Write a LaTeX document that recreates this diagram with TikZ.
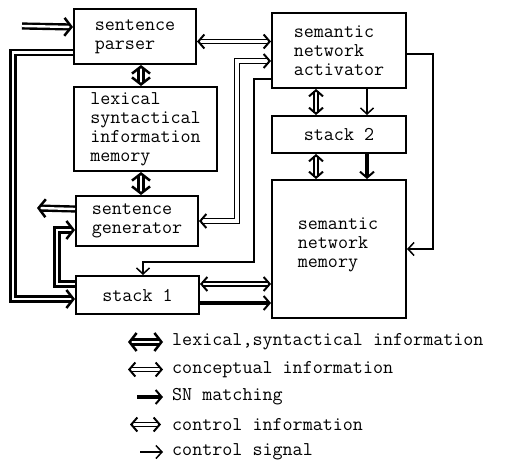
\documentclass[tikz,border=0pt]{standalone}
\usepackage{fontspec}
\usetikzlibrary{arrows.meta}
\tikzset{
  lhead/.tip={Straight Barb[length=7pt,width=18pt,line width=2.5pt]},
  chead/.tip={Straight Barb[length=6pt,width=14pt,line width=2pt]}
}
\begin{document}
\begin{tikzpicture}[x=1pt,y=-1pt,
  txt/.style={font=\ttfamily\fontsize{19.5}{19}\selectfont},
  box/.style={txt, draw, line width=2pt, inner sep=0pt, align=left, anchor=north west},
  lbl/.style={txt, inner sep=0pt, anchor=west},
  lexline/.style={line width=2.4pt, double=white, double distance=2.4pt},
  concline/.style={line width=1.8pt, double=white, double distance=2.2pt},
  infoline/.style={line width=1.2pt, double=white, double distance=3.2pt},
  snline/.style={line width=4pt, -{Straight Barb[length=6pt,width=14pt,line width=2pt]}},
  sigline/.style={line width=1.5pt, -{Straight Barb[length=6pt,width=13pt]}},
  both/.style={{lhead}-{lhead}},
  one/.style={-{lhead}},
  cboth/.style={{chead}-{chead}}
]
\useasboundingbox (0,0) rectangle (508,465);

% boxes
\node[box, minimum width=122pt, minimum height=55pt] (parser) at (73,8) {sentence\\parser};
\node[box, minimum width=143pt, minimum height=84pt] (lexmem) at (73,86) {lexical\\syntactical\\information\\memory};
\node[box, minimum width=122pt, minimum height=50pt] (gen) at (75,195) {sentence\\generator};
\node[box, minimum width=123pt, minimum height=38pt] (stack1) at (75,275) {stack 1};
\node[box, minimum width=134pt, minimum height=75pt] (activ) at (271,12) {semantic\\network\\activator};
\node[box, minimum width=134pt, minimum height=37pt] (stack2) at (271,115) {stack 2};
\node[box, minimum width=134pt, minimum height=138pt] (memory) at (271,179) {};
\node[txt, align=left, inner sep=0pt] (memtext) at (338,245) {semantic\\network\\memory};

% free ends
\coordinate (in) at (22,26);
\coordinate (out) at (37,208);

% lexical, syntactical information
\draw[lexline, one] (in) -- ([yshift=9.5pt]parser.west);
\draw[lexline, one] ([yshift=12pt]gen.west) -- (out);
\draw[lexline, both] ([xshift=6pt]parser.south) -- ([xshift=-4.5pt]lexmem.north);
\draw[lexline, both] ([xshift=-4.5pt]lexmem.south) -- ([xshift=4pt]gen.north);
\draw[lexline, one] ([yshift=-16pt]parser.west) -- ++(-60,0) |- ([yshift=-4pt]stack1.west);
\draw[lexline, one] ([yshift=11pt]stack1.west) -- ++(-18,0) |- ([yshift=-9pt]gen.west);

% control information
\draw[infoline, cboth] ([yshift=-5pt]parser.east) -- ([yshift=9pt]activ.west);
\draw[infoline, cboth] (gen.east) -- ++(38,0) |- ([yshift=-10.5pt]activ.west);

% control signals
\draw[sigline] ([yshift=-28.5pt]activ.west) -- ++(-17,0) -- ++(0,183) -| ([xshift=5.5pt]stack1.north);
\draw[sigline] ([yshift=-3.5pt]activ.east) -- ++(26,0) |- (memory.east);
\draw[sigline] ([xshift=28pt]activ.south) -- ([xshift=28pt]stack2.north);

% conceptual information
\draw[concline, cboth] ([xshift=-23pt]activ.south) -- ([xshift=-23pt]stack2.north);
\draw[concline, cboth] ([xshift=-23pt]stack2.south) -- ([xshift=-23pt]memory.north);
\coordinate (c1) at ([yshift=11pt]stack1.east);
\draw[concline, cboth] (c1) -- (c1 -| memory.west);

% SN matching
\draw[snline] ([xshift=28pt]stack2.south) -- ([xshift=28pt]memory.north);
\coordinate (c2) at ([yshift=-8pt]stack1.east);
\draw[snline] (c2) -- (c2 -| memory.west);

% legend
\coordinate (l1a) at (128,342); \coordinate (l1b) at (163,342);
\coordinate (l2a) at (128,369.5); \coordinate (l2b) at (163,369.5);
\coordinate (l3a) at (137,397); \coordinate (l3b) at (163,397);
\coordinate (l4a) at (130,424.5); \coordinate (l4b) at (161,424.5);
\coordinate (l5a) at (140,452); \coordinate (l5b) at (163,452);
\draw[lexline, both] (l1a) -- (l1b);
\draw[concline, cboth] (l2a) -- (l2b);
\draw[snline] (l3a) -- (l3b);
\draw[infoline, cboth] (l4a) -- (l4b);
\draw[sigline] (l5a) -- (l5b);
\node[lbl] (t1) at (172,342) {lexical,syntactical information};
\node[lbl] (t2) at (172,369.5) {conceptual information};
\node[lbl] (t3) at (172,397) {SN matching};
\node[lbl] (t4) at (172,424.5) {control information};
\node[lbl] (t5) at (172,452) {control signal};
\end{tikzpicture}
\end{document}
